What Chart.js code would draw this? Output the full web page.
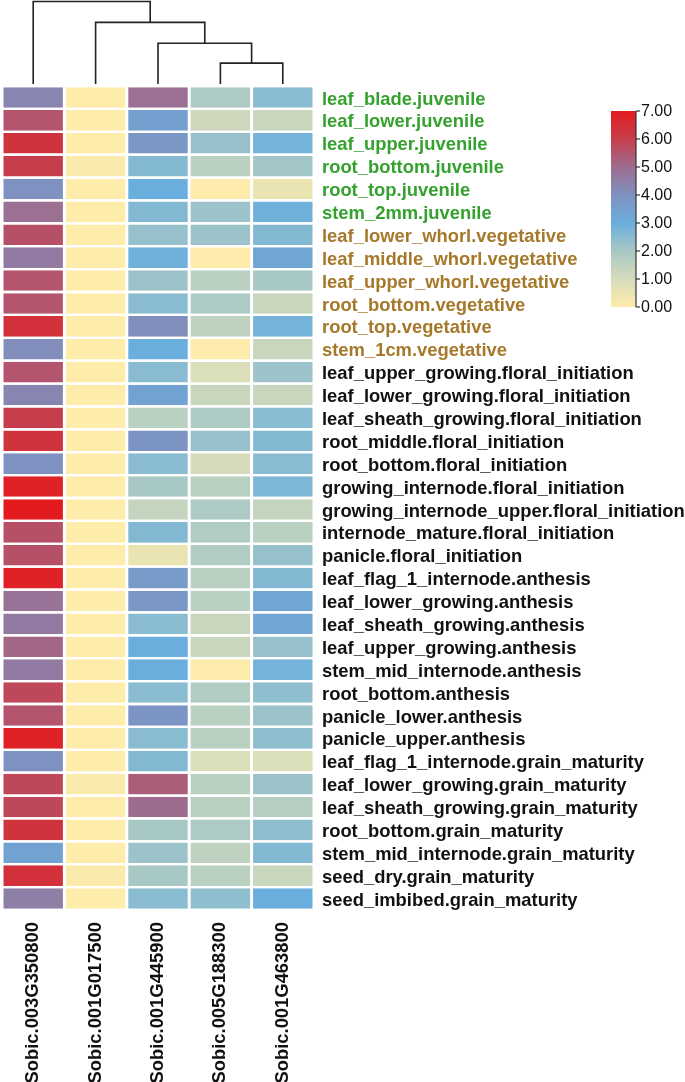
<!DOCTYPE html>
<html>
<head>
<meta charset="utf-8">
<script src="https://cdn.jsdelivr.net/npm/chart.js@4"></script>
<style>
  html, body { margin: 0; padding: 0; background: #fff; }
  #wrap { width: 685px; height: 1082px; position: relative; }
</style>
</head>
<body>
<div id="wrap"><canvas id="heatmap"></canvas></div>
<script>
// row labels (tissue.stage)
var tissues = [
  "leaf_blade.juvenile", "leaf_lower.juvenile", "leaf_upper.juvenile", "root_bottom.juvenile",
  "root_top.juvenile", "stem_2mm.juvenile",
  "leaf_lower_whorl.vegetative", "leaf_middle_whorl.vegetative", "leaf_upper_whorl.vegetative",
  "root_bottom.vegetative", "root_top.vegetative", "stem_1cm.vegetative",
  "leaf_upper_growing.floral_initiation", "leaf_lower_growing.floral_initiation",
  "leaf_sheath_growing.floral_initiation", "root_middle.floral_initiation",
  "root_bottom.floral_initiation", "growing_internode.floral_initiation",
  "growing_internode_upper.floral_initiation", "internode_mature.floral_initiation",
  "panicle.floral_initiation",
  "leaf_flag_1_internode.anthesis", "leaf_lower_growing.anthesis", "leaf_sheath_growing.anthesis",
  "leaf_upper_growing.anthesis", "stem_mid_internode.anthesis", "root_bottom.anthesis",
  "panicle_lower.anthesis", "panicle_upper.anthesis",
  "leaf_flag_1_internode.grain_maturity", "leaf_lower_growing.grain_maturity",
  "leaf_sheath_growing.grain_maturity", "root_bottom.grain_maturity",
  "stem_mid_internode.grain_maturity", "seed_dry.grain_maturity", "seed_imbibed.grain_maturity"
];

// column labels, in dendrogram order
var genes = ["Sobic.003G350800", "Sobic.001G017500", "Sobic.001G445900", "Sobic.005G188300", "Sobic.001G463800"];

// expression values per gene (one per tissue row)
var g350800 = [4.3, 5.5, 6.3, 6.0, 4.0, 4.9, 5.6, 4.6, 5.5, 5.5, 6.4, 4.1,
               5.5, 4.3, 6.0, 6.3, 4.0, 6.8, 7.0, 5.6, 5.6,
               6.8, 4.8, 4.6, 5.1, 4.6, 5.8, 5.5, 6.8,
               4.0, 5.8, 5.8, 6.3, 3.4, 6.4, 4.5];
var g017500 = [0.0, 0.0, 0.0, 0.1, 0.0, 0.0, 0.0, 0.0, 0.0, 0.0, 0.0, 0.0,
               0.0, 0.0, 0.0, 0.0, 0.0, 0.0, 0.0, 0.0, 0.0,
               0.0, 0.0, 0.0, 0.0, 0.0, 0.0, 0.0, 0.0,
               0.0, 0.1, 0.0, 0.0, 0.0, 0.1, 0.0];
var g445900 = [4.9, 3.5, 3.8, 2.6, 3.0, 2.6, 2.3, 2.9, 2.2, 2.5, 4.1, 3.0,
               2.5, 3.4, 1.6, 3.9, 2.5, 2.0, 1.4, 2.6, 0.5,
               3.7, 3.8, 2.5, 3.0, 3.0, 2.5, 3.9, 2.5,
               2.6, 5.3, 5.0, 2.0, 2.2, 2.0, 2.5];
var g188300 = [1.9, 1.2, 2.3, 1.6, 0.05, 2.2, 2.2, 0.05, 1.6, 1.9, 1.5, 0.05,
               0.9, 1.3, 1.9, 2.3, 1.0, 1.6, 1.9, 1.8, 1.8,
               1.6, 1.6, 1.3, 1.3, 0.05, 1.8, 1.6, 1.6,
               0.9, 1.6, 1.6, 1.9, 1.5, 1.6, 2.4];
var g463800 = [2.5, 1.3, 2.8, 2.1, 0.5, 2.9, 2.6, 3.3, 2.0, 1.3, 2.8, 1.3,
               2.2, 1.3, 2.5, 2.6, 2.5, 2.7, 1.4, 1.6, 2.3,
               2.6, 3.3, 3.3, 2.3, 2.8, 2.4, 2.2, 2.4,
               0.9, 2.2, 1.7, 2.4, 2.6, 1.3, 3.0];
var geneValues = [g350800, g017500, g445900, g188300, g463800];

// dendrogram merges: [left leaf/node position, right, height 0..1]
var merges = [
  [3, 4, 0.253],
  [2, 3.5, 0.494],
  [1, 2.75, 0.747],
  [0, 1.875, 1.0]
];
var mergeChildHeights = [[0, 0], [0, 0.253], [0, 0.494], [0, 0.747]];

// colour scale
var colorTicks = [0, 1, 2, 3, 4, 5, 6, 7];
var colorStops = [
  [254, 236, 170], [214, 220, 187], [168, 200, 197], [106, 174, 221],
  [126, 145, 192], [158, 108, 142], [198, 62, 76], [228, 27, 30]
];

function valueColor(v) {
  var t = Math.max(0, Math.min(7, v));
  var i = Math.min(6, Math.floor(t));
  var f = t - i;
  var a = colorStops[i], b = colorStops[i + 1];
  var c = a.map(function(x, k) { return Math.round(x + (b[k] - x) * f); });
  return "rgb(" + c.join(",") + ")";
}

function labelColor(name) {
  if (name.indexOf(".juvenile") > 0) return "#35A12E";
  if (name.indexOf(".vegetative") > 0) return "#A5782A";
  return "#111111";
}

var datasets = geneValues.map(function(vals, gi) {
  return {
    label: genes[gi],
    data: vals.map(function() { return 1; }),
    backgroundColor: vals.map(valueColor),
    borderColor: "#ffffff",
    borderWidth: { left: 1.5, right: 1.5, top: 0, bottom: 0 },
    borderSkipped: false,
    borderRadius: 1,
    barPercentage: 1.0,
    categoryPercentage: 0.9
  };
});

var dendroPlugin = {
  id: "dendro",
  afterDraw: function(chart) {
    var ctx = chart.ctx;
    var xs = chart.scales.x;
    var top = 1.5, base = chart.chartArea.top - 2;
    function hy(h) { return base - h * (base - top); }
    function px(p) { return xs.getPixelForValue(p + 0.5); }
    ctx.save();
    ctx.strokeStyle = "#222";
    ctx.lineWidth = 1.6;
    merges.forEach(function(m, i) {
      var y = hy(m[2]);
      ctx.beginPath();
      ctx.moveTo(px(m[0]), hy(mergeChildHeights[i][0]));
      ctx.lineTo(px(m[0]), y);
      ctx.lineTo(px(m[1]), y);
      ctx.lineTo(px(m[1]), hy(mergeChildHeights[i][1]));
      ctx.stroke();
    });
    ctx.restore();
  }
};

var colorbarPlugin = {
  id: "colorbar",
  afterDraw: function(chart) {
    var ctx = chart.ctx;
    var x0 = 611, x1 = 636, yTop = 111, yBot = 307;
    var grad = ctx.createLinearGradient(0, yBot, 0, yTop);
    colorTicks.forEach(function(v) { grad.addColorStop(v / 7, valueColor(v)); });
    ctx.save();
    ctx.fillStyle = grad;
    ctx.fillRect(x0, yTop, x1 - x0, yBot - yTop);
    ctx.strokeStyle = "#333";
    ctx.lineWidth = 1.2;
    ctx.beginPath();
    ctx.moveTo(x1, yTop);
    ctx.lineTo(x1, yBot);
    ctx.stroke();
    ctx.fillStyle = "#111";
    ctx.font = "16px 'Liberation Sans', Arial, sans-serif";
    ctx.textBaseline = "middle";
    colorTicks.forEach(function(v) {
      var y = yBot - (v / 7) * (yBot - yTop);
      ctx.beginPath();
      ctx.moveTo(x1, y);
      ctx.lineTo(x1 + 4, y);
      ctx.stroke();
      ctx.fillText(v.toFixed(2), x1 + 5, y + 1);
    });
    ctx.restore();
  }
};

var chart = new Chart(document.getElementById("heatmap"), {
  type: "bar",
  data: { labels: tissues, datasets: datasets },
  options: {
    indexAxis: "y",
    responsive: true,
    maintainAspectRatio: false,
    animation: false,
    layout: { padding: { top: 86, left: 2, right: 0, bottom: 0 } },
    plugins: {
      legend: { display: false },
      tooltip: { enabled: false }
    },
    scales: {
      x: {
        type: "linear",
        stacked: true,
        min: 0,
        max: 5,
        grid: { display: false },
        border: { display: false },
        afterBuildTicks: function(s) {
          s.ticks = genes.map(function(g, i) { return { value: i + 0.5 }; });
        },
        afterFit: function(s) { s.height = 172; },
        ticks: {
          autoSkip: false,
          minRotation: 90,
          maxRotation: 90,
          padding: 4,
          color: "#111",
          font: { family: "'Liberation Sans', Arial, sans-serif", size: 18.4, weight: "bold" },
          callback: function(v, i) { return genes[i]; }
        }
      },
      y: {
        position: "right",
        stacked: true,
        grid: { display: false },
        border: { display: false },
        afterFit: function(s) { s.width = 371; },
        ticks: {
          autoSkip: false,
          padding: 0,
          labelOffset: 2,
          color: function(c) { return labelColor(tissues[c.index]); },
          font: { family: "'Liberation Sans', Arial, sans-serif", size: 18.4, weight: "bold" }
        }
      }
    }
  },
  plugins: [dendroPlugin, colorbarPlugin]
});
</script>
</body>
</html>
